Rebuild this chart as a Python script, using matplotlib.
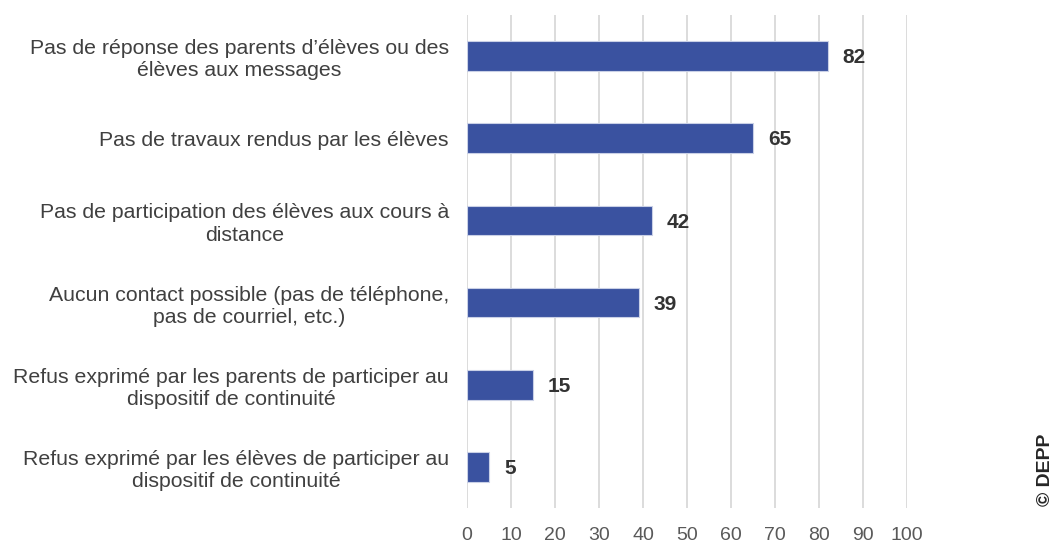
import matplotlib.pyplot as plt
import numpy as np

plt.rcParams['font.family'] = ['Liberation Sans', 'DejaVu Sans']

# Données
categories = [
    "Pas de réponse des parents d’élèves ou des\nélèves aux messages",
    "Pas de travaux rendus par les élèves",
    "Pas de participation des élèves aux cours à\ndistance",
    "Aucun contact possible (pas de téléphone,\npas de courriel, etc.)",
    "Refus exprimé par les parents de participer au\ndispositif de continuité",
    "Refus exprimé par les élèves de participer au\ndispositif de continuité",
]
values = [82, 65, 42, 39, 15, 5]
xticks = [0, 10, 20, 30, 40, 50, 60, 70, 80, 90, 100]

fig = plt.figure(figsize=(10.6, 5.43), dpi=100)
ax = fig.add_axes([0.4406, 0.0645, 0.4151, 0.9079])

y = np.arange(len(categories))[::-1]
ax.barh(y, values, height=0.36, color='#3a52a0', edgecolor='#c9d0e6',
        linewidth=0.8, zorder=3)

for yi, v in zip(y, values):
    ax.text(v + 3.4, yi - 0.02, str(v), va='center', ha='left',
            fontsize=15, fontweight='bold', color='#333333')

ax.set_xlim(0, 100)
ax.set_ylim(-0.5, 5.5)
ax.set_xticks(xticks)
ax.set_yticks(y)
ax.set_yticklabels(categories, fontsize=15.3, color='#404040',
                   linespacing=1.22)
for lab in ax.get_yticklabels():
    lab.set_multialignment('center')
ax.tick_params(axis='x', labelsize=14, colors='#595959', length=0, pad=14)
ax.tick_params(axis='y', length=0, pad=13)
ax.grid(axis='x', color='#dcdcdc', linewidth=1.4, zorder=0)
for s in ax.spines.values():
    s.set_visible(False)

fig.text(0.9865, 0.135, "© DEPP", rotation=90, fontsize=14,
         fontweight='bold', color='#262626', ha='center', va='center')

fig.savefig('out.png', dpi=100)
